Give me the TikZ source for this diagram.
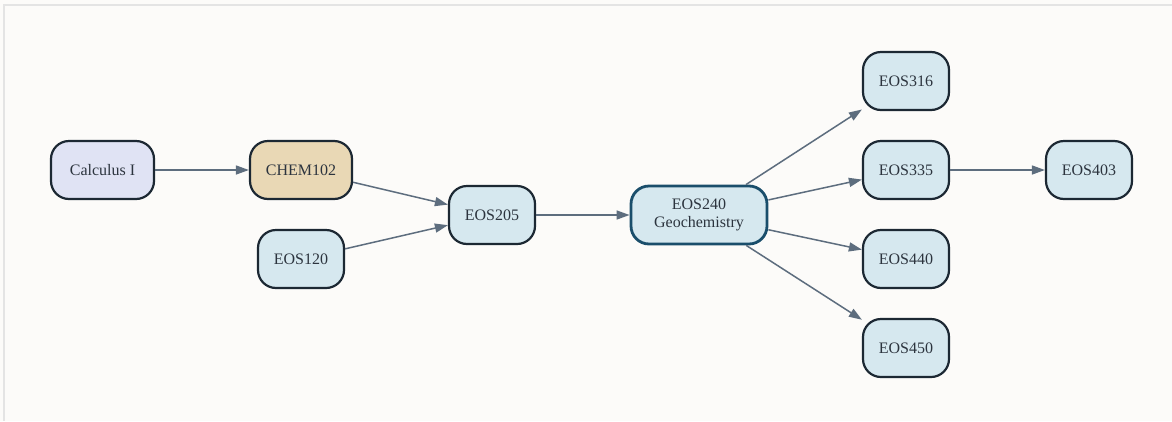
\documentclass[tikz,border=0pt]{standalone}
\usepackage{fontspec}
\setmainfont{Liberation Serif}
\usetikzlibrary{arrows.meta}
\definecolor{bgpaper}{RGB}{252,251,249}
\definecolor{framegray}{RGB}{228,228,228}
\definecolor{nodeline}{RGB}{28,40,51}
\definecolor{coreline}{RGB}{26,78,107}
\definecolor{textdark}{RGB}{44,52,62}
\definecolor{edgegray}{RGB}{93,109,126}
\definecolor{fillblue}{RGB}{214,232,239}
\definecolor{fillmath}{RGB}{224,227,244}
\definecolor{fillchem}{RGB}{233,216,181}
\tikzset{
  course/.style={draw=nodeline, line width=2.2pt, fill=fillblue, rounded corners=18pt,
    minimum width=86pt, minimum height=58pt, inner sep=0pt, align=center,
    text=textdark, font=\fontsize{16}{17.5}\selectfont},
  core/.style={course, draw=coreline, line width=2.8pt, minimum width=136pt},
  link/.style={draw=edgegray, line width=1.5pt, -{Triangle[length=13pt,width=9pt]}}
}
\begin{document}
\begin{tikzpicture}[x=1pt,y=-1pt]
  % page and frame
  \fill[bgpaper] (0,0) rectangle (1172,421);
  \useasboundingbox (0,0) rectangle (1172,421);
  \draw[framegray, line width=2pt] (4,421) -- (4,5) -- (1172,5);

  % courses
  \node[course, fill=fillmath, minimum width=103pt] (calc) at (102.5,170) {Calculus I};
  \node[course, fill=fillchem, minimum width=102pt] (chem) at (301,170) {CHEM102};
  \node[course] (e120) at (301,259) {EOS120};
  \node[course] (e205) at (492,215) {EOS205};
  \node[core] (e240) at (699,215) {EOS240\\Geochemistry};
  \node[course] (e316) at (906,81) {EOS316};
  \node[course] (e335) at (906,170) {EOS335};
  \node[course] (e440) at (906,259) {EOS440};
  \node[course] (e450) at (906,348) {EOS450};
  \node[course] (e403) at (1089,170) {EOS403};

  % prerequisites
  \draw[link] (calc) -- (chem);
  \draw[link] (chem) -- (e205);
  \draw[link] (e120) -- (e205);
  \draw[link] (e205) -- (e240);
  \draw[link] (e240) -- (e316);
  \draw[link] (e240) -- (e335);
  \draw[link] (e240) -- (e440);
  \draw[link] (e240) -- (e450);
  \draw[link] (e335) -- (e403);
\end{tikzpicture}
\end{document}
